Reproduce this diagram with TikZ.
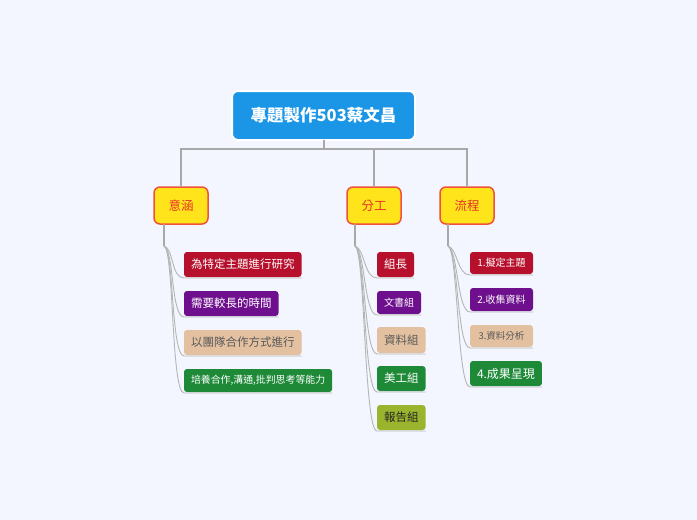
\documentclass[tikz,border=0pt]{standalone}
\usepackage{fontspec}
\setmainfont{Noto Sans CJK TC}
\usetikzlibrary{positioning}
\definecolor{pagebg}     {RGB}{243,246,254}
\definecolor{rootblue}   {RGB}{27 ,150,230}
\definecolor{topicyellow}{RGB}{255,228, 28}
\definecolor{topicred}   {RGB}{240, 80, 60}
\definecolor{topictext}  {RGB}{228, 50, 40}
\definecolor{leafred}    {RGB}{183, 16, 44}
\definecolor{leafpurple} {RGB}{110, 16,142}
\definecolor{leaftan}    {RGB}{226,192,160}
\definecolor{leafgreen}  {RGB}{30 ,138, 56}
\definecolor{leafolive}  {RGB}{155,180, 46}
\definecolor{linkgray}   {RGB}{168,168,168}

\begin{document}
\begin{tikzpicture}[
  x=1pt, y=-1pt,
  every node/.style={inner sep=0pt, outer sep=0pt, align=center},
  root/.style={fill=rootblue, draw=white, line width=2pt, rounded corners=6pt, minimum width=183pt, minimum height=49pt, text=white, font=\fontsize{16.5}{16.5}\selectfont\bfseries},
  topic/.style={fill=topicyellow, draw=topicred, line width=1.5pt, rounded corners=6pt, minimum width=54pt, minimum height=37pt, text=topictext, font=\fontsize{12.5}{12.5}\selectfont},
  leaf/.style={rounded corners=3pt, inner xsep=7pt, minimum height=25pt, text=white, font=\fontsize{11.5}{11.5}\selectfont},
  tanleaf/.style={leaf, fill=leaftan, text=black!65},
  trunk/.style={draw=linkgray, line width=2pt},
  branch/.style={draw=linkgray!85, line width=0.9pt}
]
  \path[fill=pagebg, use as bounding box] (0,0) rectangle (697,520);

  % Nodes
  \node (root) [root] at (323.5,115.5) {專題製作503蔡文昌};
  \node (yihan) [topic] at (181,205.5) {意涵};
  \node (fengong) [topic, right=139pt of yihan] {分工};
  \node (liucheng) [topic, right=39pt of fengong] {流程};

  \node (yi1) [leaf, fill=leafred, below right=28pt and 30pt of yihan.south west] {為特定主題進行研究};
  \node (yi2) [leaf, fill=leafpurple, below=14pt of yi1.south west, anchor=north west] {需要較長的時間};
  \node (yi3) [tanleaf, below=14pt of yi2.south west, anchor=north west] {以團隊合作方式進行};
  \node (yi4) [leaf, fill=leafgreen, minimum height=23pt, font=\fontsize{9.9}{9.9}\selectfont, below=14pt of yi3.south west, anchor=north west] {培養合作,溝通,批判思考等能力};

  \node (fen1) [leaf, fill=leafred, below right=28pt and 30pt of fengong.south west] {組長};
  \node (fen2) [leaf, fill=leafpurple, minimum height=23pt, font=\fontsize{10}{10}\selectfont, below=14pt of fen1.south west, anchor=north west] {文書組};
  \node (fen3) [tanleaf, minimum height=26pt, below=13pt of fen2.south west, anchor=north west] {資料組};
  \node (fen4) [leaf, fill=leafgreen, below=13pt of fen3.south west, anchor=north west] {美工組};
  \node (fen5) [leaf, fill=leafolive, text=black!85, below=14pt of fen4.south west, anchor=north west] {報告組};

  \node (liu1) [leaf, fill=leafred, minimum width=63pt, minimum height=22pt, font=\fontsize{10}{10}\selectfont, below right=28pt and 30pt of liucheng.south west] {1.擬定主題};
  \node (liu2) [leaf, fill=leafpurple, minimum width=63pt, minimum height=23pt, font=\fontsize{10}{10}\selectfont, below=14pt of liu1.south west, anchor=north west] {2.收集資料};
  \node (liu3) [tanleaf, minimum width=63pt, minimum height=22pt, font=\fontsize{9.5}{9.5}\selectfont, below=14pt of liu2.south west, anchor=north west] {3.資料分析};
  \node (liu4) [leaf, fill=leafgreen, font=\fontsize{12}{12}\selectfont, below=14pt of liu3.south west, anchor=north west] {4.成果呈現};

  % Forks
  \coordinate (bus) at ([yshift=-9pt]root.south);
  \coordinate (yihanfork) at ([xshift=10pt, yshift=-22pt]yihan.south west);
  \coordinate (fengongfork) at ([xshift=8pt, yshift=-22pt]fengong.south west);
  \coordinate (liuchengfork) at ([xshift=8pt, yshift=-22pt]liucheng.south west);

  % Paths
  \draw [trunk] (root.south) -- (bus);
  \draw [trunk] (bus) -| (yihan.north);
  \draw [trunk] (bus) -| (fengong.north);
  \draw [trunk] (bus) -| (liucheng.north);

  \draw [trunk] (yihanfork |- yihan.south) -- (yihanfork);
  \draw [trunk] (fengongfork |- fengong.south) -- (fengongfork);
  \draw [trunk] (liuchengfork |- liucheng.south) -- (liuchengfork);

  \draw [branch] (yihanfork) .. controls +(10,3) and +(-13,0) .. ([yshift=-1pt]yi1.south west) -- ([yshift=-1pt]yi1.south east);
  \draw [branch] (yihanfork) .. controls +(10,3) and +(-13,0) .. ([yshift=-1pt]yi2.south west) -- ([yshift=-1pt]yi2.south east);
  \draw [branch] (yihanfork) .. controls +(10,3) and +(-13,0) .. ([yshift=-1pt]yi3.south west) -- ([yshift=-1pt]yi3.south east);
  \draw [branch] (yihanfork) .. controls +(10,3) and +(-13,0) .. ([yshift=-1pt]yi4.south west) -- ([yshift=-1pt]yi4.south east);

  \draw [branch] (fengongfork) .. controls +(10,3) and +(-13,0) .. ([yshift=-1pt]fen1.south west) -- ([yshift=-1pt]fen1.south east);
  \draw [branch] (fengongfork) .. controls +(10,3) and +(-13,0) .. ([yshift=-1pt]fen2.south west) -- ([yshift=-1pt]fen2.south east);
  \draw [branch] (fengongfork) .. controls +(10,3) and +(-13,0) .. ([yshift=-1pt]fen3.south west) -- ([yshift=-1pt]fen3.south east);
  \draw [branch] (fengongfork) .. controls +(10,3) and +(-13,0) .. ([yshift=-1pt]fen4.south west) -- ([yshift=-1pt]fen4.south east);
  \draw [branch] (fengongfork) .. controls +(10,3) and +(-13,0) .. ([yshift=-1pt]fen5.south west) -- ([yshift=-1pt]fen5.south east);

  \draw [branch] (liuchengfork) .. controls +(10,3) and +(-13,0) .. ([yshift=-1pt]liu1.south west) -- ([yshift=-1pt]liu1.south east);
  \draw [branch] (liuchengfork) .. controls +(10,3) and +(-13,0) .. ([yshift=-1pt]liu2.south west) -- ([yshift=-1pt]liu2.south east);
  \draw [branch] (liuchengfork) .. controls +(10,3) and +(-13,0) .. ([yshift=-1pt]liu3.south west) -- ([yshift=-1pt]liu3.south east);
  \draw [branch] (liuchengfork) .. controls +(10,3) and +(-13,0) .. ([yshift=-1pt]liu4.south west) -- ([yshift=-1pt]liu4.south east);
\end{tikzpicture}
\end{document}
